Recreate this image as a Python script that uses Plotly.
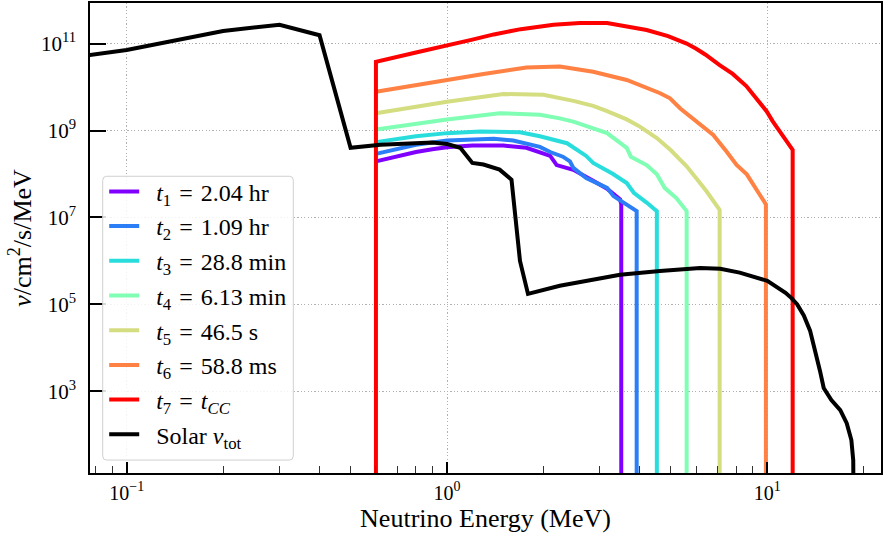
import plotly.graph_objects as go

# Neutrino spectra at successive times before core collapse (MeV, nu/cm^2/s/MeV)
energy_t1 = [0.6, 0.7, 0.8, 0.9, 1.0, 1.2, 1.5, 1.77, 1.95, 2.1, 2.2, 2.48, 2.86, 3.16, 3.47, 3.5, 3.5]
flux_t1 = [1.95e8, 2.6e8, 3.2e8, 3.7e8, 4.1e8, 4.5e8, 4.5e8, 4.0e8, 3.1e8, 2.6e8, 1.6e8,
           1.25e8, 7.0e7, 4.6e7, 2.6e7, 2.0e7, 1]

energy_t2 = [0.6, 0.8, 1.0, 1.21, 1.4, 1.61, 1.95, 2.1, 2.3, 2.42, 2.48, 2.72, 3.16, 3.31, 3.6, 3.91, 3.91]
flux_t2 = [2.9e8, 4.7e8, 5.9e8, 6.3e8, 6.5e8, 5.9e8, 4.2e8, 3.2e8, 2.5e8, 1.95e8, 1.38e8,
           8.1e7, 4.8e7, 3.1e7, 2.1e7, 1.4e7, 1]

energy_t3 = [0.6, 0.8, 1.0, 1.27, 1.69, 1.95, 2.37, 2.72, 2.86, 3.3, 3.64, 3.83, 4.2, 4.52, 4.52]
flux_t3 = [5.4e8, 7.4e8, 8.7e8, 9.5e8, 9.1e8, 7.4e8, 5.1e8, 2.6e8, 1.8e8, 1.0e8, 6.2e7,
           3.7e7, 2.2e7, 1.4e7, 1]

energy_t4 = [0.6, 0.8, 1.0, 1.46, 1.95, 2.25, 2.48, 3.16, 3.64, 3.75, 4.2, 4.52, 4.78, 5.2, 5.6, 5.6]
flux_t4 = [1.05e9, 1.45e9, 1.8e9, 2.5e9, 2.3e9, 1.9e9, 1.6e9, 8.7e8, 4.0e8, 2.5e8, 1.6e8,
           9.8e7, 4.8e7, 2.8e7, 1.4e7, 1]

energy_t5 = [0.6, 0.8, 1.0, 1.5, 2.0, 2.48, 2.86, 3.16, 3.64, 4.0, 4.52, 5.0, 5.6, 6.0, 6.46, 7.1, 7.1]
flux_t5 = [2.5e9, 3.6e9, 4.6e9, 6.9e9, 6.6e9, 4.8e9, 3.7e9, 2.8e9, 1.8e9, 1.23e9, 6.7e8,
           3.5e8, 1.5e8, 8.0e7, 4.0e7, 1.5e7, 1]

energy_t6 = [0.6, 0.8, 1.0, 1.3, 1.77, 2.25, 2.86, 3.64, 4.63, 4.97, 5.35, 6.17, 6.78, 7.46,
             8.02, 8.63, 9.49, 9.9, 9.9]
flux_t6 = [7.8e9, 1.12e10, 1.45e10, 2.0e10, 2.8e10, 2.95e10, 2.24e10, 1.45e10, 7.2e9, 5.5e9,
           3.2e9, 1.35e9, 7.9e8, 3.3e8, 1.62e8, 9.8e7, 3.4e7, 2.0e7, 1]

energy_t7 = [0.6, 0.6, 0.8, 1.0, 1.2, 1.4, 1.7, 2.15, 2.6, 3.16, 3.6, 3.9, 4.2, 4.9, 5.6, 6.0,
             6.4, 7.1, 7.8, 8.6, 9.24, 9.96, 10.4, 10.96, 11.5, 12.0, 12.0]
flux_t7 = [1, 3.8e10, 6.2e10, 9.3e10, 1.23e11, 1.62e11, 2.14e11, 2.69e11, 2.95e11, 2.95e11,
           2.51e11, 2.29e11, 2.04e11, 1.48e11, 1.0e11, 7.6e10, 5.6e10, 3.2e10, 2.0e10, 1.05e10,
           5.5e9, 2.75e9, 1.62e9, 9.5e8, 5.6e8, 3.6e8, 1]

# Total solar neutrino flux
energy_solar = [0.07, 0.1, 0.2, 0.3, 0.4, 0.5, 0.62, 0.9, 1.0, 1.1, 1.2, 1.3, 1.46, 1.59,
                1.69, 1.79, 2.25, 3.47, 4.62, 6.17, 7.13, 8.2, 10.0, 11.4, 11.9, 12.4, 13.0,
                13.6, 14.6, 15.0, 15.85, 16.9, 17.7, 18.3, 18.55, 18.6]
flux_solar = [5.0e10, 7.1e10, 1.95e11, 2.7e11, 1.55e11, 4.0e8, 4.7e8, 5.3e8, 4.9e8, 4.0e8,
              1.8e8, 1.65e8, 1.26e8, 7.4e7, 1.0e6, 1.75e5, 2.7e5, 4.8e5, 5.9e5, 6.9e5,
              6.6e5, 5.4e5, 3.5e5, 1.86e5, 1.4e5, 1.0e5, 5.6e4, 2.5e4, 3.0e3, 1.2e3, 630,
              370, 186, 76, 26, 1]

EQ = "\u2004=\u2004"
series_labels = [
    f"<i>t</i><sub>1</sub>{EQ}2.04 hr",
    f"<i>t</i><sub>2</sub>{EQ}1.09 hr",
    f"<i>t</i><sub>3</sub>{EQ}28.8 min",
    f"<i>t</i><sub>4</sub>{EQ}6.13 min",
    f"<i>t</i><sub>5</sub>{EQ}46.5 s",
    f"<i>t</i><sub>6</sub>{EQ}58.8 ms",
    f"<i>t</i><sub>7</sub>{EQ}<i>t</i><sub><i>CC</i></sub>",
    "Solar <i>ν</i><sub>tot</sub>",
]
series_colors = ["#8000ff", "#2c7ef7", "#2adddd", "#80feb4", "#d4dd80", "#ff8143", "#ff0000", "#000000"]

x_tick_vals = [0.1, 1, 10]
x_tick_text = ["10<sup>−1</sup>", "10<sup>0</sup>", "10<sup>1</sup>"]
x_minor_vals = [0.08, 0.09, 0.2, 0.3, 0.4, 0.5, 0.6, 0.7, 0.8, 0.9,
                2, 3, 4, 5, 6, 7, 8, 9, 20]
y_tick_vals = [1e3, 1e5, 1e7, 1e9, 1e11]
y_tick_text = ["10<sup>3</sup>", "10<sup>5</sup>", "10<sup>7</sup>", "10<sup>9</sup>", "10<sup>11</sup>"]

series = [
    (energy_t1, flux_t1), (energy_t2, flux_t2), (energy_t3, flux_t3), (energy_t4, flux_t4),
    (energy_t5, flux_t5), (energy_t6, flux_t6), (energy_t7, flux_t7), (energy_solar, flux_solar),
]

FONT = "Liberation Serif"

fig = go.Figure()
for (xs, ys), name, color in zip(series, series_labels, series_colors):
    fig.add_trace(go.Scatter(
        x=xs, y=ys, mode="lines", name="\u2002" + name, legendgroup=name,
        line=dict(color=color, width=4),
    ))

W, H = 884, 535
ML, MR, MT, MB = 90, 3, 1, 62
pw, ph = W - ML - MR, H - MT - MB

# Legend frame with rounded corners (pixel box converted to paper fractions)
bx0, bx1, by0, by1, r = 102.7, 293.3, 175.0, 460.0, 4.0
def px(v):
    return (v - ML) / pw
def py(v):
    return 1 - (v - MT) / ph
rx, ry = r / pw, r / ph
X0, X1, Y0, Y1 = px(bx0), px(bx1), py(by1), py(by0)
frame_path = (
    f"M{X0 + rx},{Y1} L{X1 - rx},{Y1} Q{X1},{Y1} {X1},{Y1 - ry} "
    f"L{X1},{Y0 + ry} Q{X1},{Y0} {X1 - rx},{Y0} "
    f"L{X0 + rx},{Y0} Q{X0},{Y0} {X0},{Y0 + ry} "
    f"L{X0},{Y1 - ry} Q{X0},{Y1} {X0 + rx},{Y1} Z"
)
fig.add_shape(type="path", path=frame_path, xref="paper", yref="paper",
              fillcolor="rgba(255,255,255,0.85)", line=dict(color="#d0d0d0", width=1),
              layer="above")

grid_dash = "1.2px,2.2px"
fig.update_layout(
    width=W, height=H,
    margin=dict(l=ML, r=MR, t=MT, b=MB),
    paper_bgcolor="white", plot_bgcolor="white",
    font=dict(family=FONT, color="black", size=20),
    showlegend=True,
    legend=dict(
        x=px(bx0 + 1.5), y=py(by0 - 7), xanchor="left", yanchor="top",
        bgcolor="rgba(0,0,0,0)", borderwidth=0,
        font=dict(family=FONT, size=24, color="black"),
        tracegroupgap=0.5, itemwidth=30,
    ),
    xaxis=dict(
        type="log", range=[-1.1146, 1.355],
        showline=True, linecolor="black", linewidth=1.5, mirror=True,
        ticks="inside", ticklen=11, tickwidth=1.5, tickcolor="black",
        tickmode="array", tickvals=x_tick_vals, ticktext=x_tick_text,
        tickfont=dict(size=20), ticklabelstandoff=1,
        showgrid=True, gridcolor="#b0b0b0", gridwidth=1, griddash=grid_dash,
        zeroline=False,
        minor=dict(tickmode="array", tickvals=x_minor_vals, ticks="inside",
                   ticklen=7, tickwidth=1, tickcolor="#333333", showgrid=False),
        title=dict(text="Neutrino Energy (MeV)", font=dict(size=26), standoff=6),
    ),
    yaxis=dict(
        type="log", range=[1.124, 11.932],
        showline=True, linecolor="black", linewidth=1.5, mirror=True,
        ticks="inside", ticklen=16, tickwidth=1.5, tickcolor="black",
        tickmode="array", tickvals=y_tick_vals, ticktext=y_tick_text,
        tickfont=dict(size=21), ticklabelstandoff=8,
        showgrid=True, gridcolor="#b0b0b0", gridwidth=1, griddash=grid_dash,
        zeroline=False,
        title=dict(text="<i>ν</i>/cm<sup>2</sup>/s/MeV", font=dict(size=26), standoff=2),
    ),
)

fig.write_html("out.html")
